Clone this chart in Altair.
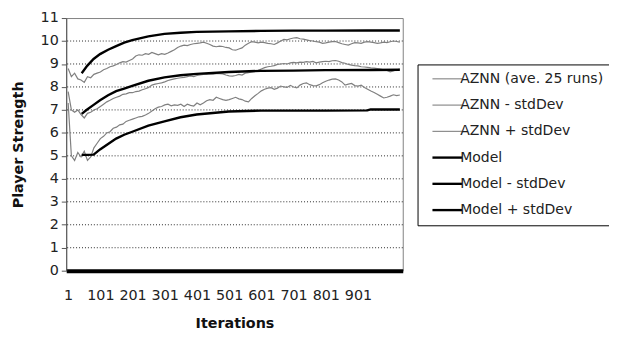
import altair as alt
import pandas as pd

# x positions (iterations) of the AZNN samples
aznn_iter = list(range(1, 1032, 10))

aznn_minus = [
    7.3, 5.0, 4.8, 5.15, 4.95, 5.2, 4.8, 4.95, 5.35, 5.55,
    5.75, 5.85, 6.0, 6.05, 6.2, 6.25, 6.35, 6.38, 6.5, 6.55,
    6.6, 6.65, 6.7, 6.72, 6.78, 6.85, 6.95, 7.05, 7.12, 7.15,
    7.22, 7.25, 7.18, 7.22, 7.2, 7.25, 7.15, 7.25, 7.2, 7.17,
    7.3, 7.22, 7.3, 7.4, 7.45, 7.42, 7.55, 7.5, 7.45, 7.42,
    7.45, 7.5, 7.55, 7.48, 7.45, 7.38, 7.35, 7.5, 7.62, 7.72,
    7.83, 7.9, 7.95, 7.97, 7.9, 7.95, 8.04, 8.0, 7.98, 8.07,
    8.0, 7.96, 8.08, 8.15, 8.18, 8.1, 8.06, 8.05, 8.1, 8.18,
    8.25, 8.3, 8.34, 8.35, 8.3, 8.22, 8.08, 8.12, 8.15, 8.06,
    8.04, 8.08, 7.98, 7.9, 7.82, 7.76, 7.68, 7.6, 7.52, 7.55,
    7.6, 7.66, 7.62, 7.65,
]

aznn_avg = [
    7.8, 7.0, 6.9, 7.0, 6.8, 6.65, 6.85, 6.9, 7.0, 7.05,
    7.15, 7.25, 7.35, 7.42, 7.5, 7.55, 7.6, 7.68, 7.7, 7.75,
    7.75, 7.8, 7.82, 7.88, 7.92, 7.98, 8.08, 8.12, 8.15, 8.18,
    8.22, 8.28, 8.32, 8.35, 8.38, 8.4, 8.42, 8.45, 8.48, 8.45,
    8.5, 8.52, 8.55, 8.55, 8.57, 8.56, 8.58, 8.58, 8.57, 8.52,
    8.48, 8.47, 8.5, 8.55, 8.52, 8.6, 8.62, 8.65, 8.68, 8.72,
    8.78, 8.84, 8.88, 8.9, 8.93, 8.98, 9.0, 9.02, 9.0, 9.05,
    9.07, 9.05, 9.08, 9.07, 9.1, 9.08, 9.11, 9.05, 9.08, 9.1,
    9.12, 9.1, 9.14, 9.15, 9.12, 9.06, 9.03, 8.98, 8.95, 8.93,
    8.92, 8.88, 8.87, 8.85, 8.83, 8.82, 8.8, 8.78, 8.75, 8.72,
    8.66, 8.7, 8.75, 8.78,
]

aznn_plus = [
    8.8, 8.45, 8.6, 8.35, 8.3, 8.2, 8.45, 8.4, 8.55, 8.6,
    8.65, 8.75, 8.8, 8.88, 8.92, 8.98, 9.05, 9.1, 9.08, 9.15,
    9.22, 9.35, 9.4, 9.38, 9.45, 9.42, 9.5, 9.45, 9.4, 9.45,
    9.42, 9.48, 9.55, 9.62, 9.72, 9.78, 9.82, 9.8, 9.85, 9.88,
    9.9, 9.92, 9.95, 9.9, 9.85, 9.78, 9.75, 9.78, 9.76, 9.72,
    9.7, 9.62, 9.6, 9.65, 9.7, 9.82, 9.9, 9.97, 9.95, 9.92,
    9.95, 9.93, 9.9, 9.88, 9.85, 9.92, 10.0, 10.07, 10.05, 10.1,
    10.13, 10.15, 10.1, 10.08, 10.05, 10.02, 10.0, 9.97, 9.95, 9.9,
    9.92, 9.95, 9.97, 9.98, 9.93, 9.88, 9.85, 9.82, 9.88, 9.93,
    9.92, 9.9, 9.95, 9.97, 9.95, 9.93, 9.9, 9.92, 9.95, 9.93,
    9.97, 10.0, 9.98, 9.95,
]

model_iter = [43, 60, 80, 100, 125, 150, 175, 200, 250, 300, 350, 400, 500, 600, 700, 800, 930, 940, 1031]
model_plus = [8.6, 8.92, 9.22, 9.43, 9.62, 9.78, 9.93, 10.04, 10.2, 10.31, 10.36, 10.4, 10.42, 10.44, 10.45, 10.45, 10.46, 10.46, 10.46]
model_avg = [6.83, 7.02, 7.22, 7.42, 7.64, 7.82, 7.93, 8.05, 8.27, 8.42, 8.51, 8.57, 8.65, 8.7, 8.71, 8.73, 8.74, 8.74, 8.75]
model_minus = [5.04, 5.04, 5.05, 5.28, 5.52, 5.75, 5.92, 6.05, 6.32, 6.5, 6.68, 6.8, 6.93, 6.97, 6.97, 6.97, 6.98, 7.02, 7.02]

series_names = ["AZNN (ave. 25 runs)", "AZNN - stdDev", "AZNN + stdDev",
                "Model", "Model - stdDev", "Model + stdDev"]
series_colors = ["#808080", "#808080", "#808080", "#000000", "#000000", "#000000"]

x_ticks = [1, 101, 201, 301, 401, 501, 601, 701, 801, 901]
y_ticks = list(range(0, 12))
grid_values = list(range(1, 11))

aznn_rows = []
for name, vals in [(series_names[0], aznn_avg), (series_names[1], aznn_minus), (series_names[2], aznn_plus)]:
    for i, v in zip(aznn_iter, vals):
        aznn_rows.append({"iter": i, "value": v, "series": name})
model_rows = []
for name, vals in [(series_names[3], model_avg), (series_names[4], model_minus), (series_names[5], model_plus)]:
    for i, v in zip(model_iter, vals):
        model_rows.append({"iter": i, "value": v, "series": name})
aznn_df = pd.DataFrame(aznn_rows)
model_df = pd.DataFrame(model_rows)
grid_df = pd.DataFrame({"g": grid_values})

FONT = "DejaVu Sans"

xscale = alt.Scale(domain=[-5, 1040], nice=False, zero=False)
yscale = alt.Scale(domain=[0, 11], nice=False, zero=False)

xaxis = alt.Axis(values=x_ticks, title="Iterations", grid=False, ticks=False,
                 domainColor="#000000", domainWidth=4,
                 labelFont=FONT, labelFontSize=14.5, labelColor="#222222",
                 labelPadding=18, titleFont=FONT, titleFontSize=14.5,
                 titleFontWeight="bold", titleColor="#111111", titlePadding=15)
yaxis = alt.Axis(values=y_ticks, title="Player Strength", grid=False,
                 domainColor="#555555", tickColor="#555555", tickSize=5,
                 labelFont=FONT, labelFontSize=14.5, labelColor="#222222",
                 labelPadding=3, titleFont=FONT, titleFontSize=14.5,
                 titleFontWeight="bold", titleColor="#111111", titlePadding=15)

color_enc = alt.Color(
    "series:N",
    scale=alt.Scale(domain=series_names, range=series_colors),
    legend=alt.Legend(
        title=None, orient="none", legendX=356, legendY=47,
        symbolType="stroke", symbolSize=900, symbolOffset=15.5,
        rowPadding=11.6, padding=7.5,
        labelFont=FONT, labelFontSize=14.2, labelColor="#222222", labelOffset=6,
        labelLimit=400,
        labelExpr="datum.label + '\u00a0\u00a0\u00a0\u00a0\u00a0\u00a0'",
        strokeColor="#000000", fillColor="#ffffff",
        symbolStrokeWidth={"expr": "indexof(['Model','Model - stdDev','Model + stdDev'], datum.value) >= 0 ? 2.4 : 1.1"},
    ),
)

grid = alt.Chart(grid_df).mark_rule(color="#000000", strokeDash=[1, 2], strokeWidth=1, opacity=0.85).encode(
    y=alt.Y("g:Q", scale=yscale, axis=yaxis)
)

aznn = alt.Chart(aznn_df).mark_line(strokeWidth=1.2).encode(
    x=alt.X("iter:Q", scale=xscale, axis=xaxis),
    y=alt.Y("value:Q", scale=yscale, axis=yaxis),
    color=color_enc,
    detail="series:N",
)

model = alt.Chart(model_df).mark_line(strokeWidth=2.4).encode(
    x=alt.X("iter:Q", scale=xscale, axis=xaxis),
    y=alt.Y("value:Q", scale=yscale, axis=yaxis),
    color=color_enc,
    detail="series:N",
)

chart = alt.layer(grid, aznn, model).properties(
    width=341, height=256,
    autosize=alt.AutoSizeParams(type="none"),
    padding={"left": 59, "top": 8, "right": 209, "bottom": 64},
    background="#ffffff",
).configure_view(stroke="#808080", strokeWidth=1)

chart.save("out.html", embed_options={"renderer": "svg", "actions": False})
